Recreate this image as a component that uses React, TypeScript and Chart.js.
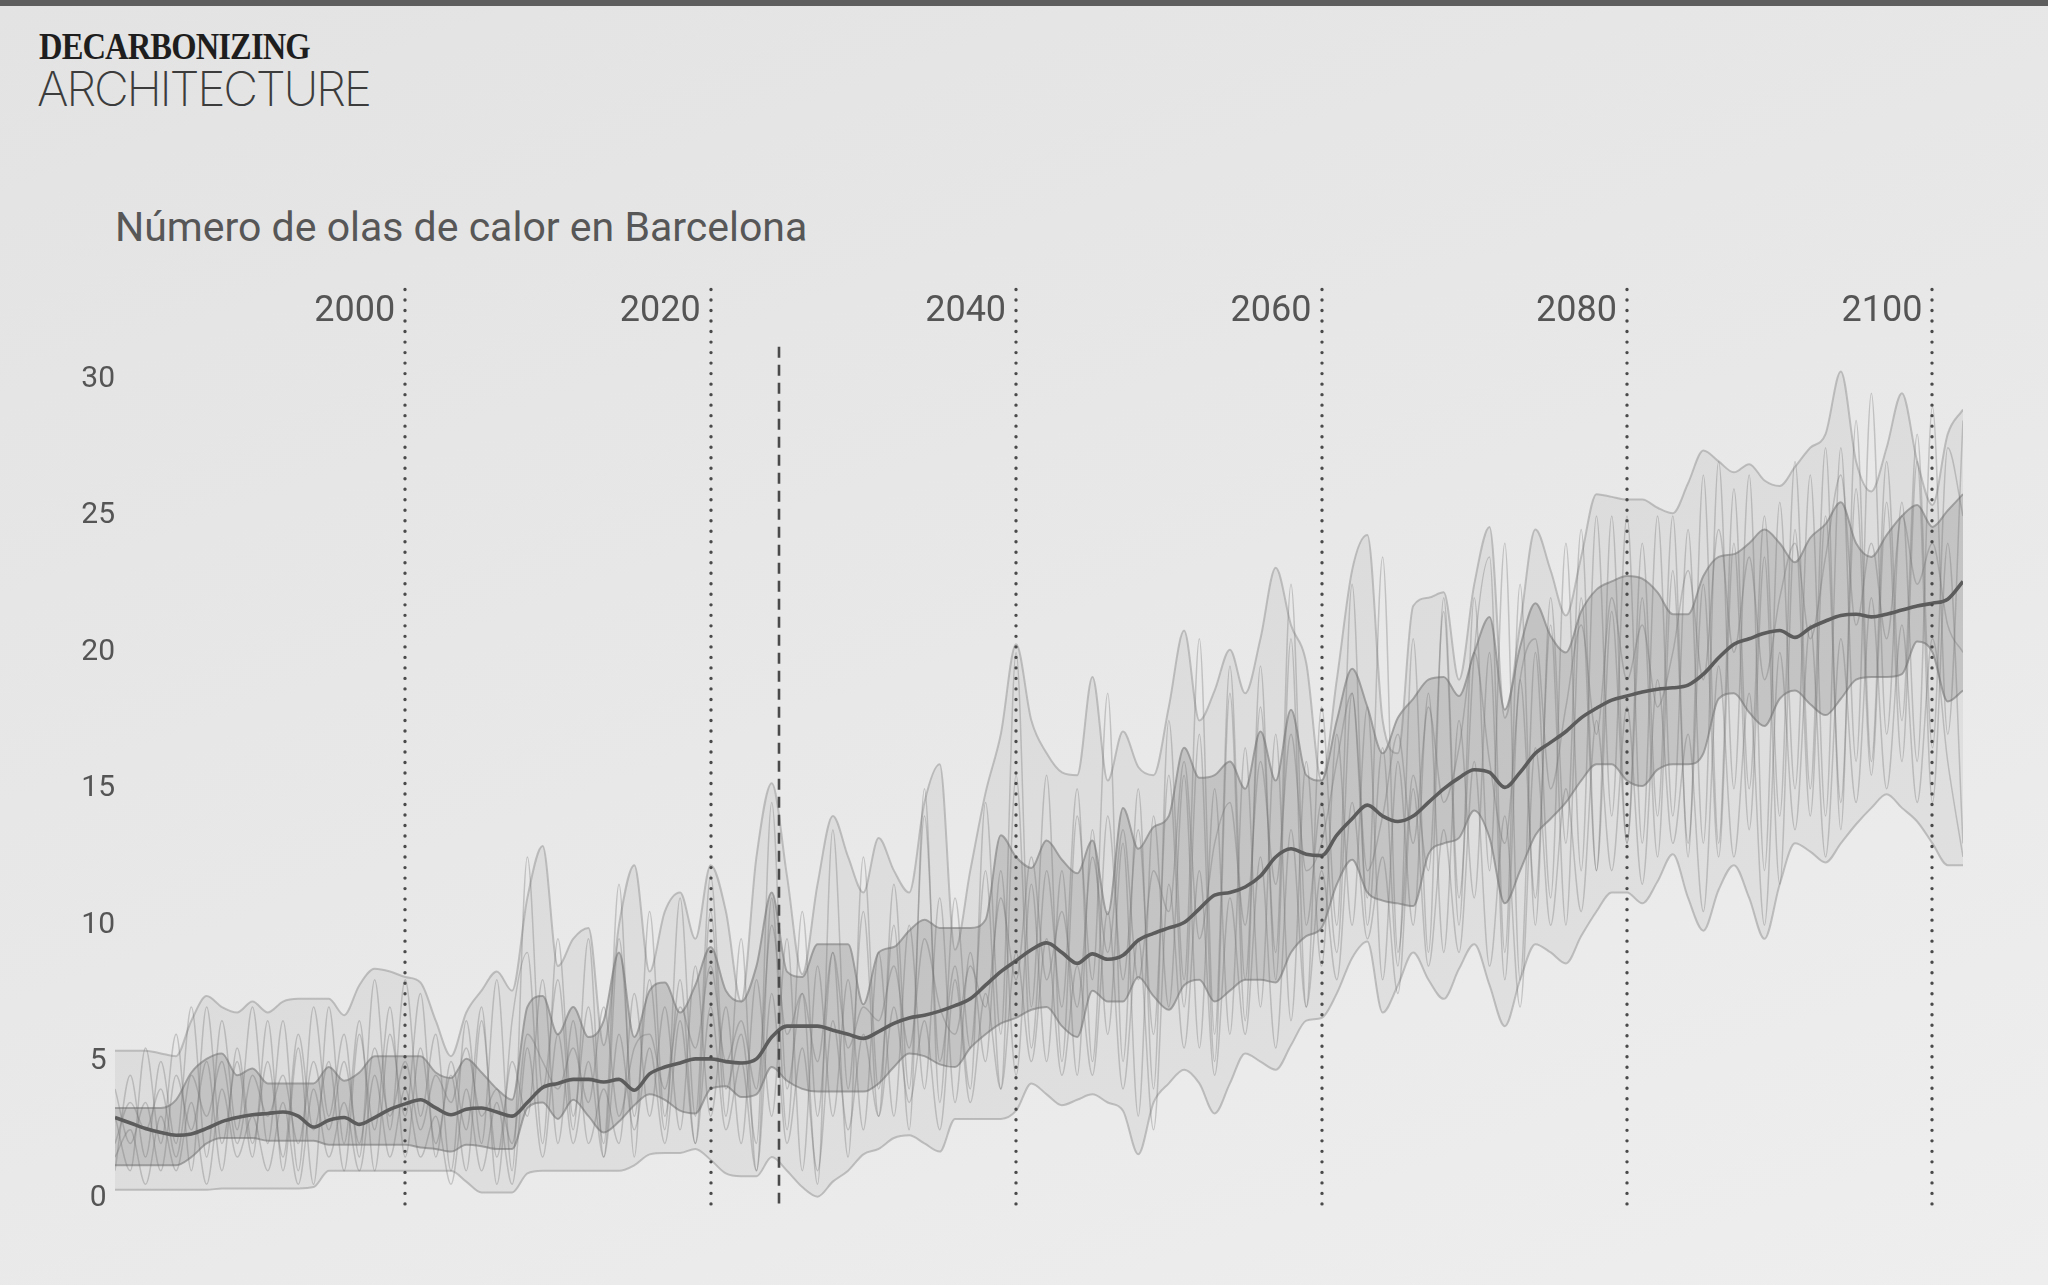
import React, { useEffect, useRef } from "react";
import { Chart, registerables } from "chart.js";

Chart.register(...registerables);

const years = [
  1981, 1982, 1983, 1984, 1985, 1986, 1987, 1988, 1989, 1990,
  1991, 1992, 1993, 1994, 1995, 1996, 1997, 1998, 1999, 2000,
  2001, 2002, 2003, 2004, 2005, 2006, 2007, 2008, 2009, 2010,
  2011, 2012, 2013, 2014, 2015, 2016, 2017, 2018, 2019, 2020,
  2021, 2022, 2023, 2024, 2025, 2026, 2027, 2028, 2029, 2030,
  2031, 2032, 2033, 2034, 2035, 2036, 2037, 2038, 2039, 2040,
  2041, 2042, 2043, 2044, 2045, 2046, 2047, 2048, 2049, 2050,
  2051, 2052, 2053, 2054, 2055, 2056, 2057, 2058, 2059, 2060,
  2061, 2062, 2063, 2064, 2065, 2066, 2067, 2068, 2069, 2070,
  2071, 2072, 2073, 2074, 2075, 2076, 2077, 2078, 2079, 2080,
  2081, 2082, 2083, 2084, 2085, 2086, 2087, 2088, 2089, 2090,
  2091, 2092, 2093, 2094, 2095, 2096, 2097, 2098, 2099, 2100,
  2101, 2102,
];

const median = [
  2.95, 2.75, 2.55, 2.4, 2.3, 2.35, 2.55, 2.8, 2.95, 3.05,
  3.1, 3.15, 3.0, 2.6, 2.85, 2.95, 2.7, 2.95, 3.25, 3.45,
  3.6, 3.3, 3.05, 3.25, 3.3, 3.15, 3.0, 3.5, 4.05, 4.2,
  4.35, 4.35, 4.25, 4.35, 3.95, 4.55, 4.8, 4.95, 5.1, 5.1,
  5.0, 4.95, 5.1, 5.9, 6.3, 6.3, 6.3, 6.15, 6.0, 5.85,
  6.1, 6.4, 6.6, 6.7, 6.85, 7.05, 7.3, 7.8, 8.3, 8.7,
  9.1, 9.35, 9.0, 8.6, 8.95, 8.75, 8.9, 9.45, 9.7, 9.9,
  10.1, 10.6, 11.1, 11.2, 11.4, 11.8, 12.5, 12.8, 12.6, 12.55,
  13.3, 13.9, 14.4, 14.0, 13.8, 14.0, 14.5, 15.0, 15.4, 15.7,
  15.6, 15.05, 15.6, 16.3, 16.7, 17.1, 17.6, 17.95, 18.25, 18.4,
  18.55, 18.65, 18.7, 18.8, 19.2, 19.8, 20.3, 20.5, 20.7, 20.8,
  20.55, 20.9, 21.15, 21.35, 21.4, 21.3, 21.4, 21.55, 21.7, 21.8,
  21.95, 22.6,
];

const innerUpper = [
  3.3, 3.3, 3.3, 3.3, 3.6, 4.6, 5.1, 5.3, 4.5, 4.75,
  4.2, 4.2, 4.2, 4.2, 4.8, 4.3, 4.6, 5.2, 5.2, 5.2,
  5.2, 4.6, 4.4, 5.1, 4.6, 4.0, 3.6, 7.0, 7.4, 6.0,
  7.0, 5.9, 6.5, 9.0, 5.9, 7.6, 7.9, 6.8, 7.8, 9.2,
  7.6, 7.2, 8.5, 11.2, 8.3, 8.1, 9.3, 9.3, 9.3, 7.1,
  9.0, 9.2, 9.8, 10.2, 9.9, 9.9, 9.9, 10.2, 13.3, 12.5,
  12.1, 13.1, 12.4, 11.9, 13.1, 10.4, 14.3, 12.8, 13.6, 14.0,
  16.5, 15.4, 15.5, 16.0, 15.0, 17.1, 15.3, 17.9, 15.5, 15.3,
  17.5, 19.4, 18.0, 16.3, 17.6, 18.3, 19.0, 19.1, 18.4, 20.0,
  21.3, 17.9, 20.2, 21.8, 20.6, 20.0, 21.5, 22.3, 22.6, 22.8,
  22.7, 22.2, 21.4, 21.4, 22.8, 23.5, 23.6, 24.0, 24.5, 24.0,
  23.3, 24.2, 24.7, 25.5, 24.0, 23.5, 24.3, 25.0, 25.4, 24.6,
  25.2, 25.8,
];

const innerLower = [
  1.2, 1.2, 1.2, 1.2, 1.2, 1.5, 2.0, 2.2, 2.2, 2.2,
  2.1, 2.1, 2.1, 2.1, 1.95, 1.95, 1.95, 1.95, 1.95, 1.95,
  1.85, 1.8, 1.7, 1.95, 1.9, 1.8, 1.8, 3.3, 3.5, 2.9,
  3.6, 3.0, 2.4, 2.8, 3.4, 3.8, 3.6, 3.2, 3.1, 4.0,
  4.1, 3.7, 3.8, 4.8, 4.3, 4.0, 3.9, 3.9, 3.9, 3.9,
  4.2, 4.8, 5.3, 5.2, 4.9, 4.8, 5.5, 6.0, 6.4, 6.6,
  6.9, 7.0, 6.3, 5.9, 7.6, 7.2, 7.2, 8.1, 7.4, 6.9,
  7.8, 8.0, 7.2, 7.6, 8.0, 8.0, 7.9, 9.0, 9.6, 9.9,
  11.5, 12.4, 11.2, 10.9, 10.8, 10.7, 12.6, 13.0, 13.2, 14.2,
  13.2, 10.8, 12.0, 13.3, 13.9, 14.5, 15.3, 15.9, 15.9, 15.3,
  15.1, 15.7, 15.9, 15.9, 16.3, 18.3, 18.5, 17.8, 17.3, 18.3,
  18.6, 18.1, 17.7, 18.3, 19.0, 19.1, 19.1, 19.2, 20.4, 20.0,
  18.2, 18.6,
];

const outerUpper = [
  5.4, 5.4, 5.4, 5.3, 5.2, 6.5, 7.4, 7.0, 6.8, 7.2,
  6.8, 7.2, 7.3, 7.3, 7.3, 6.7, 7.8, 8.4, 8.3, 8.1,
  7.9, 6.5, 5.2, 6.8, 7.6, 8.3, 7.6, 11.0, 12.9, 8.5,
  9.5, 9.9, 5.6, 10.0, 12.2, 8.3, 10.5, 11.2, 9.5, 12.2,
  10.5, 7.2, 12.5, 15.2, 11.8, 8.2, 11.5, 14.0, 12.5, 11.2,
  13.2, 12.0, 11.2, 14.5, 15.9, 9.1, 12.0, 14.85, 17.0, 20.3,
  17.5, 16.3, 15.6, 15.5, 19.1, 15.3, 17.1, 15.8, 15.5, 18.0,
  20.8, 17.5, 18.6, 20.1, 18.5, 20.5, 23.1, 21.0, 19.6, 15.3,
  19.0, 23.0, 24.3, 17.5, 16.3, 21.7, 22.0, 22.2, 19.0, 22.5,
  24.6, 17.6, 21.0, 24.5, 23.0, 21.35, 23.5, 25.8, 25.7, 25.6,
  25.6, 25.3, 25.1, 26.2, 27.4, 27.0, 26.6, 26.9, 26.3, 26.1,
  26.8, 27.5, 28.0, 30.3, 27.0, 25.9, 27.5, 29.5, 27.0, 25.4,
  28.0, 28.9,
];

const outerLower = [
  0.3, 0.3, 0.3, 0.3, 0.3, 0.3, 0.3, 0.35, 0.35, 0.35,
  0.35, 0.35, 0.35, 0.4, 1.0, 1.0, 1.0, 1.0, 1.0, 1.0,
  1.0, 1.0, 1.0, 0.6, 0.2, 0.2, 0.2, 0.9, 1.0, 1.0,
  1.0, 1.0, 1.0, 1.0, 1.2, 1.6, 1.65, 1.65, 1.8, 1.4,
  0.9, 0.8, 0.8, 1.5, 1.0, 0.4, 0.05, 0.6, 1.0, 1.6,
  1.8, 2.2, 2.3, 2.0, 1.7, 2.9, 2.9, 2.9, 2.9, 3.2,
  4.2, 3.8, 3.4, 3.6, 3.8, 3.5, 3.2, 1.6, 3.5, 4.2,
  4.7, 4.2, 3.1, 4.2, 5.3, 5.0, 4.7, 5.6, 6.5, 6.6,
  7.5, 8.8, 9.4, 6.8, 7.8, 9.0, 8.0, 7.3, 8.4, 9.3,
  7.8, 6.3, 8.0, 9.3, 9.0, 8.6, 9.6, 10.5, 11.2, 11.2,
  10.8, 11.6, 12.6, 11.0, 9.8, 11.3, 12.2, 11.0, 9.5, 11.5,
  13.0, 12.7, 12.3, 13.0, 13.7, 14.3, 14.8, 14.3, 13.8, 13.0,
  12.2, 12.2,
];

const modelA = [
  1.0, 4.5, 1.5, 5.0, 2.0, 7.0, 1.5, 6.5, 2.5, 7.0,
  2.0, 6.5, 1.0, 7.0, 3.0, 6.0, 1.5, 8.0, 2.5, 8.0,
  3.0, 6.0, 1.0, 6.5, 2.0, 8.0, 1.0, 12.5, 4.0, 8.0,
  2.5, 9.5, 1.5, 9.5, 3.0, 8.0, 2.5, 11.0, 3.0, 11.8,
  4.0, 6.0, 2.0, 14.5, 4.0, 7.5, 0.5, 13.5, 4.0, 10.5,
  3.0, 11.5, 4.0, 14.0, 5.0, 8.5, 4.0, 14.5, 6.0, 20.0,
  7.0, 15.5, 5.0, 14.0, 8.0, 18.5, 5.0, 15.0, 4.0, 17.5,
  8.0, 20.5, 6.0, 19.5, 8.0, 18.0, 9.0, 22.5, 10.0, 14.5,
  9.0, 18.5, 11.0, 23.5, 9.0, 15.5, 12.0, 21.5, 10.0, 22.0,
  12.0, 24.0, 8.0, 20.0, 11.0, 24.0, 12.0, 25.0, 14.0, 25.0,
  13.0, 25.0, 14.0, 24.5, 13.0, 27.0, 15.0, 26.5, 12.0, 25.5,
  15.0, 26.5, 14.0, 27.5, 16.0, 29.5, 17.0, 25.5, 16.0, 29.0,
  17.0, 28.5,
];

const modelB = [
  4.0, 2.0, 3.5, 1.0, 4.5, 2.5, 5.0, 1.0, 5.5, 2.0,
  5.0, 1.5, 6.0, 2.5, 5.0, 1.0, 6.0, 2.5, 7.0, 1.5,
  5.5, 2.0, 4.5, 1.0, 6.5, 1.5, 5.0, 3.0, 8.0, 2.0,
  6.5, 2.0, 4.0, 2.0, 7.5, 3.0, 7.0, 2.5, 8.5, 3.0,
  7.0, 2.0, 8.0, 3.0, 9.5, 1.0, 8.5, 3.0, 8.0, 2.5,
  9.0, 3.0, 10.0, 4.0, 11.0, 3.5, 9.0, 5.0, 12.0, 4.5,
  11.5, 5.0, 12.0, 4.5, 13.5, 6.0, 13.0, 3.0, 14.0, 7.0,
  15.5, 5.5, 15.0, 6.0, 16.5, 7.0, 17.0, 6.5, 16.0, 8.5,
  17.0, 10.0, 18.0, 8.0, 16.0, 10.0, 18.5, 9.0, 17.5, 11.0,
  20.0, 8.0, 19.0, 11.0, 21.0, 10.0, 22.0, 12.0, 21.5, 13.0,
  22.0, 12.5, 23.0, 13.0, 22.5, 12.5, 24.0, 13.5, 23.5, 11.5,
  24.5, 14.0, 25.0, 14.5, 26.0, 15.5, 25.5, 16.0, 27.0, 14.5,
  24.0, 13.0,
];

const modelC = [
  2.0, 3.5, 2.5, 4.0, 1.5, 4.5, 3.0, 5.0, 2.0, 4.5,
  3.0, 4.5, 2.0, 5.0, 2.5, 5.0, 2.0, 5.5, 3.0, 5.0,
  2.5, 4.5, 3.5, 5.5, 3.0, 4.0, 2.0, 6.0, 5.0, 4.0,
  5.5, 3.5, 7.0, 3.0, 5.5, 6.0, 4.0, 7.0, 5.5, 8.5,
  5.0, 6.5, 4.0, 10.0, 6.0, 7.5, 5.0, 9.0, 5.5, 7.0,
  6.5, 8.5, 5.5, 9.5, 7.0, 6.0, 8.5, 7.0, 11.0, 8.0,
  12.5, 8.0, 10.5, 7.0, 12.5, 9.0, 13.5, 8.0, 12.0, 10.5,
  16.0, 9.5, 13.0, 14.5, 10.0, 16.0, 11.5, 17.0, 12.0, 13.0,
  16.0, 18.5, 12.0, 14.0, 17.0, 13.0, 18.0, 14.5, 16.5, 20.0,
  16.0, 13.0, 19.0, 20.5, 15.0, 18.0, 21.0, 17.0, 22.0, 19.0,
  21.0, 18.0, 20.0, 23.0, 19.0, 24.5, 20.0, 23.5, 19.0, 22.0,
  24.0, 20.5, 23.5, 26.5, 21.0, 24.0, 20.5, 25.0, 22.5, 24.0,
  21.0, 20.0,
];

const modelD = [
  3.0, 1.0, 5.5, 2.0, 6.0, 1.0, 7.0, 2.0, 5.0, 1.5,
  6.5, 1.0, 5.5, 0.5, 7.0, 2.0, 6.5, 1.0, 6.0, 3.0,
  7.5, 1.5, 5.0, 2.5, 7.0, 0.5, 6.5, 9.0, 2.0, 9.5,
  3.0, 7.0, 2.0, 11.5, 1.5, 10.5, 3.0, 8.0, 2.0, 10.5,
  3.0, 9.5, 1.0, 11.0, 2.5, 10.5, 3.0, 9.0, 1.5, 12.5,
  4.0, 10.0, 2.5, 15.0, 3.5, 11.0, 5.5, 12.0, 4.0, 15.5,
  5.5, 12.0, 7.0, 15.0, 5.0, 14.0, 8.0, 13.5, 6.0, 15.5,
  7.0, 17.0, 5.0, 18.5, 6.5, 19.5, 8.0, 20.5, 7.0, 18.0,
  10.0, 22.5, 10.0, 16.5, 8.5, 20.5, 9.0, 22.0, 11.0, 20.0,
  23.5, 9.0, 22.5, 10.0, 22.0, 13.0, 24.5, 12.0, 25.0, 13.0,
  24.0, 14.0, 25.0, 12.5, 26.5, 13.0, 26.0, 15.0, 25.0, 14.0,
  27.0, 15.0, 27.5, 13.5, 28.5, 16.0, 27.0, 17.5, 28.0, 16.5,
  27.5, 25.0,
];

const modelE = [
  1.5, 2.5, 0.5, 3.0, 1.0, 3.5, 0.5, 4.0, 1.5, 3.0,
  1.0, 3.5, 0.5, 4.0, 1.5, 3.5, 1.0, 4.5, 1.5, 4.0,
  1.5, 3.0, 0.5, 4.0, 1.0, 3.5, 0.5, 5.5, 1.5, 6.0,
  2.0, 5.0, 1.5, 6.0, 2.5, 5.5, 2.0, 6.5, 2.0, 7.0,
  2.5, 5.0, 1.0, 7.5, 2.0, 5.5, 1.0, 6.5, 2.5, 6.0,
  3.0, 7.0, 3.5, 6.5, 2.5, 8.0, 3.5, 7.5, 4.0, 9.0,
  5.0, 9.5, 4.5, 8.5, 4.5, 10.5, 4.0, 9.5, 2.5, 11.5,
  5.5, 12.0, 4.5, 11.0, 6.0, 12.5, 5.5, 13.5, 7.0, 12.0,
  8.0, 14.5, 9.5, 12.5, 7.5, 15.0, 8.5, 13.5, 9.0, 16.0,
  8.5, 14.0, 7.0, 16.5, 10.0, 15.0, 10.5, 17.5, 12.0, 18.0,
  11.5, 19.0, 13.0, 17.0, 10.5, 19.5, 12.5, 18.5, 10.0, 20.0,
  13.5, 21.0, 12.5, 20.5, 14.5, 22.0, 15.0, 21.0, 14.5, 20.5,
  16.0, 12.5,
];

const yearTicks = [2000, 2020, 2040, 2060, 2080, 2100];
const valueTicks = [0, 5, 10, 15, 20, 25, 30];
const presentYear = 2024.5;

const FONT = "Roboto, 'Noto Sans', sans-serif";

const pts = (vals: number[]) => vals.map((v, i) => ({ x: years[i], y: v }));

const guidesPlugin = {
  id: "guides",
  afterDatasetsDraw(chart: any) {
    const { ctx, scales } = chart;
    const x = scales.x;
    const y = scales.y;
    ctx.save();
    ctx.strokeStyle = "#4a4a4a";
    ctx.lineWidth = 3.4;
    ctx.lineCap = "round";
    ctx.setLineDash([0.01, 10.5]);
    for (const yr of yearTicks) {
      const px = Math.round(x.getPixelForValue(yr));
      ctx.beginPath();
      ctx.moveTo(px, y.getPixelForValue(33.3));
      ctx.lineTo(px, y.getPixelForValue(-0.5));
      ctx.stroke();
    }
    ctx.lineCap = "butt";
    ctx.lineWidth = 2.6;
    ctx.setLineDash([11, 7]);
    const pp = Math.round(x.getPixelForValue(presentYear));
    ctx.beginPath();
    ctx.moveTo(pp, y.getPixelForValue(31.2));
    ctx.lineTo(pp, y.getPixelForValue(-0.2));
    ctx.stroke();
    ctx.restore();
  },
};

export default function App() {
  const ref = useRef<HTMLCanvasElement | null>(null);

  useEffect(() => {
    document.body.style.margin = "0";
    const canvas = ref.current;
    if (!canvas) return;
    const line = (data: number[], color: string, width: number, extra: any = {}) => ({
      data: pts(data),
      borderColor: color,
      borderWidth: width,
      pointRadius: 0,
      fill: false,
      cubicInterpolationMode: "monotone",
      ...extra,
    });
    const modelColor = "rgba(110,110,110,0.32)";
    const chart = new Chart(canvas, {
      type: "line",
      data: {
        datasets: [
          line(median, "#5c5c5c", 3.6),
          line(modelA, modelColor, 1.5),
          line(modelB, modelColor, 1.5),
          line(modelC, modelColor, 1.5),
          line(modelD, modelColor, 1.5),
          line(modelE, modelColor, 1.5),
          line(innerUpper, "rgba(135,135,135,0.7)", 2, {
            fill: { target: 7 },
            backgroundColor: "rgba(120,120,120,0.26)",
          }),
          line(innerLower, "rgba(135,135,135,0.7)", 2),
          line(outerUpper, "rgba(165,165,165,0.65)", 2, {
            fill: { target: 9 },
            backgroundColor: "rgba(160,160,160,0.16)",
          }),
          line(outerLower, "rgba(165,165,165,0.65)", 2),
        ] as any,
      },
      options: {
        animation: false,
        responsive: false,
        devicePixelRatio: 1,
        events: [],
        layout: { padding: { left: 77, right: 85, top: 285, bottom: 87 } },
        plugins: {
          legend: { display: false },
          tooltip: { enabled: false },
          title: { display: false },
        },
        scales: {
          x: {
            type: "linear",
            position: "top",
            min: 1981,
            max: 2102,
            afterBuildTicks: (s: any) => {
              s.ticks = yearTicks.map((v) => ({ value: v }));
            },
            afterFit: (s: any) => {
              s.height = 40;
            },
            grid: { display: false, drawTicks: false },
            border: { display: false },
            ticks: {
              align: "end",
              labelOffset: -10,
              padding: -9,
              color: "#555555",
              font: { family: FONT, size: 36 },
              callback: (v: any) => String(v),
            },
          },
          y: {
            type: "linear",
            min: 0,
            max: 32,
            afterBuildTicks: (s: any) => {
              s.ticks = valueTicks.map((v) => ({ value: v }));
            },
            afterFit: (s: any) => {
              s.width = 38;
            },
            grid: { display: false, drawTicks: false },
            border: { display: false },
            ticks: {
              crossAlign: "center",
              padding: 0,
              color: "#555555",
              font: { family: FONT, size: 30 },
              callback: (v: any) => String(v),
            },
          },
        },
      } as any,
      plugins: [guidesPlugin],
    });
    return () => chart.destroy();
  }, []);

  return (
    <div
      style={{
        position: "relative",
        width: 2048,
        height: 1285,
        overflow: "hidden",
        background: "linear-gradient(160deg, #e3e3e3 0%, #e8e8e8 50%, #eeeeee 100%)",
      }}
    >
      <div style={{ position: "absolute", left: 0, top: 0, width: 2048, height: 6, background: "#5e5e5e" }} />
      <div
        style={{
          position: "absolute",
          left: 39,
          top: 28,
          fontFamily: "'Liberation Serif', 'DejaVu Serif', serif",
          fontWeight: 700,
          fontSize: 37,
          letterSpacing: -1,
          lineHeight: 1,
          color: "#1e1e1e",
          transform: "scaleX(0.88)",
          transformOrigin: "left top",
          whiteSpace: "nowrap",
        }}
      >
        DECARBONIZING
      </div>
      <div
        style={{
          position: "absolute",
          left: 37,
          top: 65,
          fontFamily: "Inter, Lato, sans-serif",
          fontWeight: 200,
          fontSize: 48,
          letterSpacing: -2.3,
          lineHeight: 1,
          color: "#3c3c3c",
          whiteSpace: "nowrap",
        }}
      >
        ARCHITECTURE
      </div>
      <div
        style={{
          position: "absolute",
          left: 115,
          top: 207,
          fontFamily: FONT,
          fontSize: 41,
          lineHeight: 1,
          color: "#575757",
          whiteSpace: "nowrap",
        }}
      >
        Número de olas de calor en Barcelona
      </div>
      <canvas
        ref={ref}
        width={2048}
        height={1285}
        style={{ position: "absolute", left: 0, top: 0, width: 2048, height: 1285 }}
      />
    </div>
  );
}
